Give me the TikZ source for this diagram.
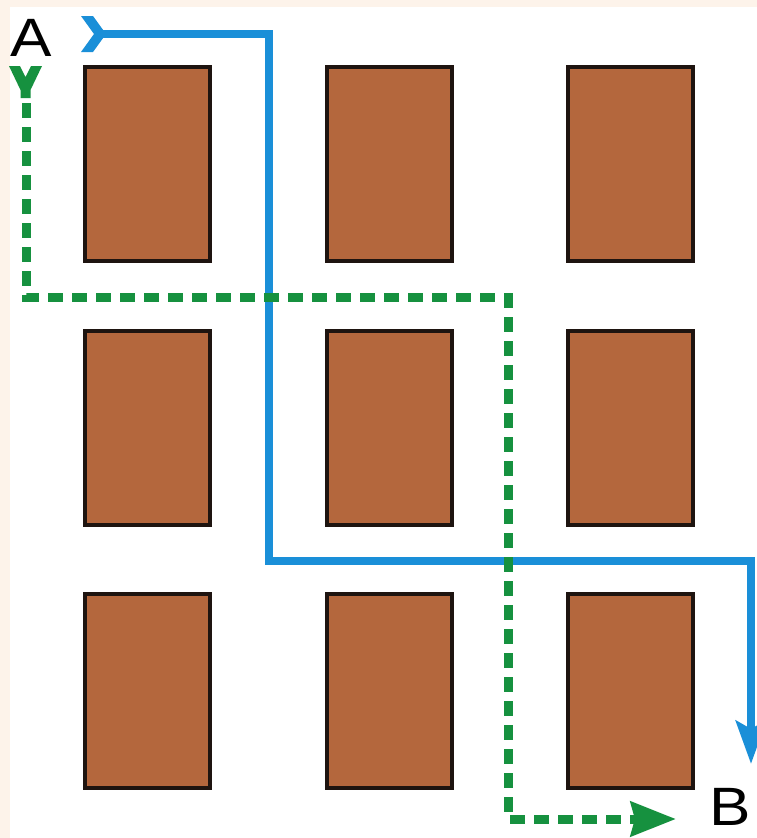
\documentclass[tikz,border=0pt]{standalone}
\usepackage{fontspec}
\setmainfont{Liberation Sans}
\usetikzlibrary{arrows.meta}
\definecolor{peach}{HTML}{FDF3EA}
\definecolor{brick}{HTML}{B4673D}
\definecolor{edgec}{HTML}{1E1410}
\definecolor{pathblue}{HTML}{1A8FD8}
\definecolor{pathgreen}{HTML}{16913F}
\tikzset{
  bed/.style={draw=edgec, line width=4pt, fill=brick, minimum width=125pt, minimum height=194pt, inner sep=0pt, outer sep=0pt},
  bluepath/.style={draw=pathblue, line width=8.5pt, line join=miter, -{Stealth[length=43pt,width=30pt,inset=8pt]}},
  greenpath/.style={draw=pathgreen, line width=9pt, dash pattern=on 15pt off 9pt, line join=miter, -{Stealth[length=45pt,width=34pt,inset=4pt]}},
  letter/.style={font=\fontsize{54}{54}\selectfont, inner sep=0pt, anchor=base west, xscale=1.15},
}
\begin{document}
\begin{tikzpicture}[x=1pt,y=-1pt]
\useasboundingbox (0,0) rectangle (757,838);
\fill[peach] (0,0) rectangle (757,838);
\fill[white] (10,7) rectangle (757,838);
% beds
\foreach \c/\x in {1/147.5, 2/389, 3/630.5}{
  \foreach \r/\y in {1/164, 2/427.5, 3/690.5}{
    \node[bed] (r\r\c) at (\x,\y) {};
  }
}
% labels
\node[letter] (A) at (10,56) {A};
\node[letter] (B) at (709,825) {B};
% blue route
\coordinate (bs) at (101,34);
\coordinate (b1) at (269,34);
\coordinate (b2) at (269,561);
\coordinate (b3) at (751,561);
\coordinate (be) at (751,764);
\fill[pathblue] (81,16) -- (93,16) -- (106,34) -- (93,52) -- (81,52) -- (94,34) -- cycle;
\draw[bluepath] (bs) -- (b1) -- (b2) -- (b3) -- (be);
% green route
\coordinate (gs) at (26,103);
\coordinate (g1) at (26,297);
\coordinate (g2) at (508,297);
\coordinate (g3) at (508,819);
\coordinate (ge) at (676,819);
\fill[pathgreen] (9,66) -- (20,66) -- (25.5,77) -- (31,66) -- (42,66) -- (30.5,90) -- (30.5,98) -- (20.5,98) -- (20.5,90) -- cycle;
\draw[greenpath] (gs) -- (g1) -- (g2) -- (g3) -- (ge);
\end{tikzpicture}
\end{document}
